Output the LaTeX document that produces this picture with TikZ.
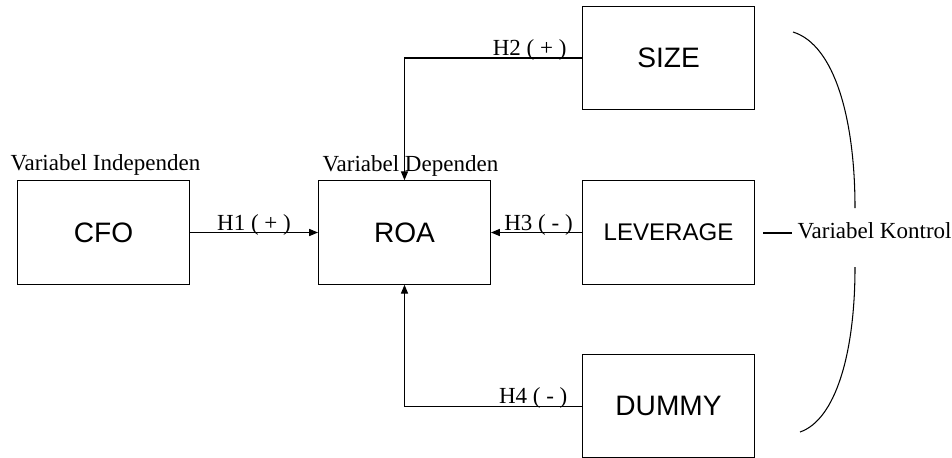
\documentclass[tikz,border=0pt]{standalone}
\usepackage{fontspec}
\setmainfont{Liberation Serif}
\setsansfont{Liberation Sans}
\usetikzlibrary{positioning,arrows.meta}

\begin{document}
\begin{tikzpicture}[x=0.02cm,y=-0.02cm,line width=0.6pt,font=\fontsize{13.1}{15}\selectfont]
            \tikzstyle{var box}=[draw,minimum width=3.44cm,minimum height=2.07cm,inner sep=0,font=\sffamily\fontsize{16}{19}\selectfont]
            \tikzstyle{hyp}=[-{Triangle[length=5pt,width=4pt]}]
            \tikzstyle{hyp label}=[inner sep=0,anchor=base east,yshift=1.3pt]
            \useasboundingbox (0,0) rectangle (952,457);
            % variabel
            \node(cfo)[var box] at (103.5,232.5){CFO};
            \node(roa)[var box,right=2.56cm of cfo]{ROA};
            \node(lev)[var box,right=1.82cm of roa,font=\sffamily\fontsize{13.7}{16}\selectfont]{LEVERAGE};
            \node(size)[var box,above=1.4cm of lev]{SIZE};
            \node(dummy)[var box,below=1.38cm of lev]{DUMMY};
            \node(indep)[inner sep=0,anchor=base west] at (10,170){Variabel Independen};
            \node(dep)[inner sep=0,anchor=base west] at (322,171.5){Variabel Dependen};
            % hipotesis
            \draw[hyp] (cfo) -- node[inner sep=0,anchor=base,yshift=1.3pt]{H1 ( + )} (roa);
            \draw[hyp] (size.west) -| node[hyp label,pos=0,xshift=-8.5pt]{H2 ( + )} (roa.north);
            \draw[hyp] (lev) -- node[hyp label,pos=0,xshift=-5pt]{H3 ( - )} (roa);
            \draw[hyp] (dummy.west) -| node[hyp label,pos=0,xshift=-8pt]{H4 ( - )} (roa.south);
            % kontrol
            \node(kontrol)[inner sep=0,anchor=base west] at (797,238){Variabel Kontrol};
            \coordinate(dash) at (763,233);
            \draw (dash) -- ++(29,0);
            \draw (793,32) .. controls (835,45) and (855,120) .. (855,208);
            \draw (855,267) .. controls (855,355) and (835,420) .. (800,432);
\end{tikzpicture}
\end{document}
